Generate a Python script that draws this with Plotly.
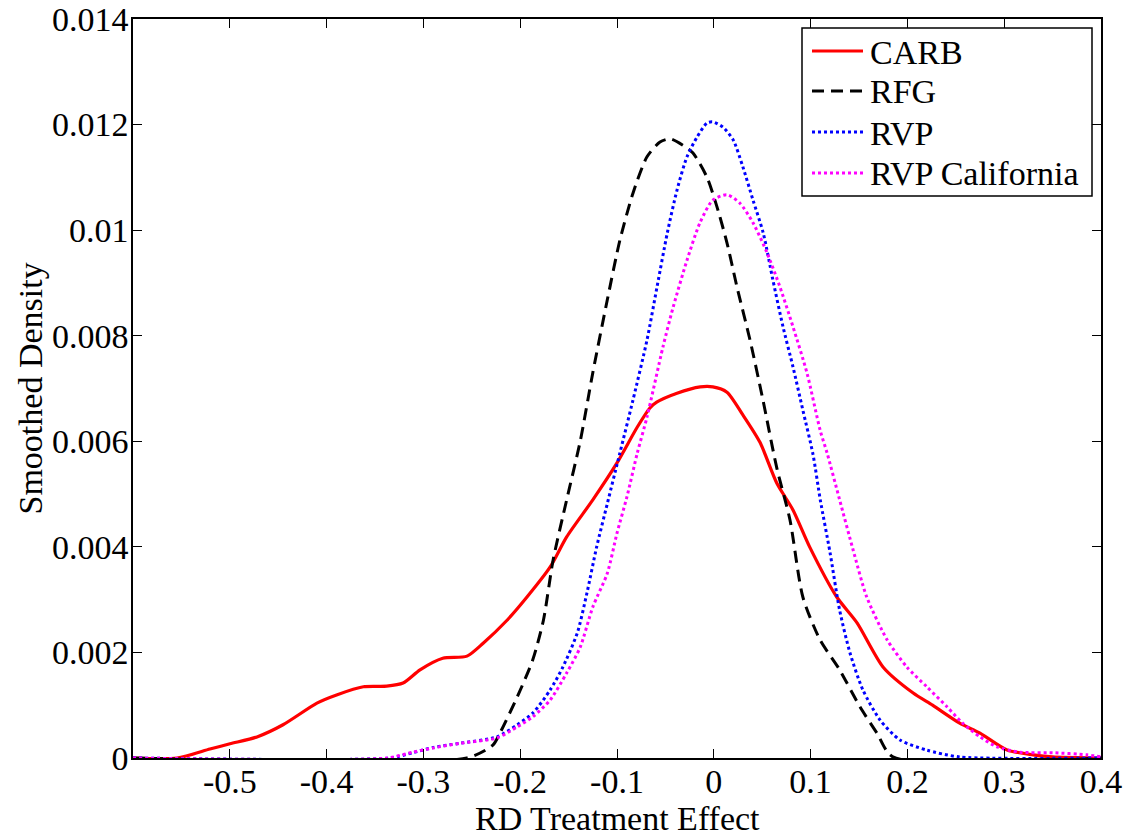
import plotly.graph_objects as go

# ---- data ----
carb_x = [-0.6, -0.5545, -0.5205, -0.4998, -0.4719, -0.445, -0.410, -0.389, -0.362, -0.338,
          -0.321, -0.3035, -0.280, -0.255, -0.238, -0.2136, -0.193, -0.169, -0.152, -0.125,
          -0.100, -0.079, -0.066, -0.059, -0.038, -0.014, -0.001, 0.0136, 0.030, 0.0477,
          0.065, 0.0818, 0.099, 0.127, 0.148, 0.175, 0.206, 0.226, 0.254, 0.275,
          0.303, 0.330, 0.350, 0.4]
carb_y = [0, 0, 0.00017, 0.00027, 0.0004, 0.00063, 0.00104, 0.0012, 0.00135, 0.00136,
          0.00142, 0.00167, 0.00189, 0.00193, 0.00218, 0.00261, 0.00305, 0.00362, 0.00419, 0.00489,
          0.00559, 0.00627, 0.00663, 0.00674, 0.00691, 0.00703, 0.00703, 0.00693, 0.00650, 0.00598,
          0.00521, 0.0047, 0.0040, 0.00305, 0.00256, 0.00172, 0.00123, 0.0010, 0.00066, 0.00047,
          0.00015, 0.00006, 0.00002, 0]

rfg_x = [-0.6, -0.255, -0.228, -0.221, -0.203, -0.187, -0.176, -0.166, -0.152, -0.138,
         -0.125, -0.110, -0.097, -0.0835, -0.069, -0.0556, -0.045, -0.032, -0.0215, -0.007,
         0.0033, 0.0136, 0.024, 0.0374, 0.0508, 0.065, 0.0787, 0.092, 0.1097, 0.130,
         0.151, 0.1686, 0.185, 0.4]
rfg_y = [0, 0, 0.00025, 0.00047, 0.00116, 0.00186, 0.00261, 0.00375, 0.00489, 0.0060,
         0.0073, 0.00868, 0.00981, 0.0107, 0.01139, 0.01167, 0.01173, 0.01161, 0.01146, 0.0110,
         0.01044, 0.00976, 0.00892, 0.00792, 0.00678, 0.0055, 0.00451, 0.00305, 0.00224, 0.00167,
         0.00097, 0.00047, 0.00002, 0]

rvp_x = [-0.6, -0.3345, -0.311, -0.29, -0.262, -0.224, -0.203, -0.187, -0.169, -0.156,
         -0.141, -0.131, -0.121, -0.110, -0.097, -0.0835, -0.069, -0.0587, -0.048, -0.038,
         -0.0277, -0.0174, -0.007, -0.001, 0.0095, 0.020, 0.030, 0.0405, 0.051, 0.061,
         0.0715, 0.0818, 0.092, 0.1025, 0.11, 0.12, 0.130, 0.1407, 0.154, 0.1717,
         0.1924, 0.22, 0.254, 0.4]
rvp_y = [0, 0, 0.0001, 0.0002, 0.00028, 0.0004, 0.00063, 0.00085, 0.00129, 0.00172,
         0.00237, 0.00313, 0.0040, 0.00482, 0.00578, 0.00678, 0.00792, 0.00892, 0.00995, 0.01076,
         0.01139, 0.01176, 0.01203, 0.01205, 0.01195, 0.01171, 0.0112, 0.01057, 0.00995, 0.00906,
         0.00817, 0.00741, 0.00659, 0.00575, 0.00489, 0.0039, 0.0028, 0.00199, 0.00129, 0.00072,
         0.00034, 0.00015, 0.00002, 0]

rvpca_x = [-0.6, -0.3376, -0.311, -0.29, -0.262, -0.224, -0.203, -0.187, -0.169, -0.152,
           -0.138, -0.125, -0.110, -0.100, -0.0897, -0.079, -0.069, -0.0525, -0.042, -0.0277,
           -0.0143, -0.001, 0.0136, 0.027, 0.0405, 0.055, 0.0684, 0.0818, 0.0963, 0.11,
           0.117, 0.130, 0.1438, 0.158, 0.179, 0.1996, 0.22, 0.2409, 0.257, 0.275,
           0.2926, 0.3163, 0.35, 0.3855, 0.4]
rvpca_y = [0, 0, 0.00011, 0.00019, 0.00028, 0.00038, 0.00059, 0.00078, 0.0011, 0.00161,
           0.0021, 0.00286, 0.0035, 0.00426, 0.00495, 0.00578, 0.00646, 0.00779, 0.00854, 0.00943,
           0.01014, 0.01057, 0.01067, 0.01051, 0.01014, 0.00957, 0.00892, 0.00817, 0.00729, 0.0062,
           0.00578, 0.00489, 0.00395, 0.00305, 0.00224, 0.00172, 0.00135, 0.00097, 0.00066, 0.0004,
           0.00021, 0.00011, 0.0001, 0.00006, 0.00002]

series_names = ["CARB", "RFG", "RVP", "RVP California"]

x_tickvals = [-0.5, -0.4, -0.3, -0.2, -0.1, 0, 0.1, 0.2, 0.3, 0.4]
x_ticktext = ["-0.5", "-0.4", "-0.3", "-0.2", "-0.1", "0", "0.1", "0.2", "0.3", "0.4"]
y_tickvals = [0, 0.002, 0.004, 0.006, 0.008, 0.01, 0.012, 0.014]
y_ticktext = ["0", "0.002", "0.004", "0.006", "0.008", "0.01", "0.012", "0.014"]
x_title = "RD Treatment Effect"
y_title = "Smoothed Density"

FONT = "Liberation Serif, Times New Roman, serif"
FS = 34

W, H = 1130, 837
L, R, T, B = 133, 29, 19, 79
PW, PH = W - L - R, H - T - B


def px_x(p):  # window pixel -> paper x
    return (p - L) / PW


def px_y(p):  # window pixel -> paper y
    return (H - B - p) / PH


fig = go.Figure()
styles = [
    dict(color="#FF0000", width=3.2, dash="solid"),
    dict(color="#000000", width=3, dash="12px,7px"),
    dict(color="#0000FF", width=3, dash="3px,3px"),
    dict(color="#FF00FF", width=3, dash="3px,3px"),
]
data = [(carb_x, carb_y), (rfg_x, rfg_y), (rvp_x, rvp_y), (rvpca_x, rvpca_y)]
for (xs, ys), name, st in zip(data, series_names, styles):
    fig.add_trace(go.Scatter(
        x=xs, y=ys, mode="lines", name=name, showlegend=False,
        line=dict(color=st["color"], width=st["width"], dash=st["dash"], shape="spline", smoothing=0.7),
        hoverinfo="skip",
    ))

# legend box drawn in paper space
shapes = [dict(type="rect", xref="paper", yref="paper",
               x0=px_x(802), x1=px_x(1092), y0=px_y(196), y1=px_y(28),
               line=dict(color="black", width=1.5), fillcolor="white", layer="above")]
annotations = []
legend_rows = [51, 91, 132, 173]
for name, st, row in zip(series_names, styles, legend_rows):
    shapes.append(dict(type="line", xref="paper", yref="paper",
                       x0=px_x(812), x1=px_x(863), y0=px_y(row), y1=px_y(row),
                       line=dict(color=st["color"], width=st["width"], dash=st["dash"]),
                       layer="above"))
    annotations.append(dict(text=name, xref="paper", yref="paper",
                            x=px_x(868), y=px_y(row + 1), xanchor="left", yanchor="middle",
                            showarrow=False, font=dict(family=FONT, size=FS, color="black")))

annotations += [
    dict(text=x_title, xref="paper", yref="paper", x=0.5, y=px_y(838),
         xanchor="center", yanchor="bottom", showarrow=False, borderpad=0,
         font=dict(family=FONT, size=FS, color="black")),
    dict(text=y_title, xref="paper", yref="paper", x=px_x(30), y=0.5,
         xanchor="center", yanchor="middle", showarrow=False, textangle=-90,
         font=dict(family=FONT, size=FS, color="black")),
]

axis_common = dict(
    showline=True, linecolor="black", linewidth=1.5, mirror="ticks",
    ticks="inside", ticklen=9, tickwidth=1, tickcolor="black",
    showgrid=False, zeroline=False, automargin=False,
    tickfont=dict(family=FONT, size=FS, color="black"),
)

fig.update_layout(
    width=W, height=H,
    margin=dict(l=L, r=R, t=T, b=B),
    paper_bgcolor="white", plot_bgcolor="white",
    font=dict(family=FONT, size=FS, color="black"),
    showlegend=False,
    xaxis=dict(range=[-0.6, 0.4], tickvals=x_tickvals, ticktext=x_ticktext, ticklabelstandoff=-8, **axis_common),
    yaxis=dict(range=[0, 0.014], tickvals=y_tickvals, ticktext=y_ticktext, ticklabelstandoff=-4, **axis_common),
    shapes=shapes,
    annotations=annotations,
)

fig.write_html("out.html", config={"displayModeBar": False},
               post_script="document.body.style.margin='0';document.body.style.overflow='hidden';")
